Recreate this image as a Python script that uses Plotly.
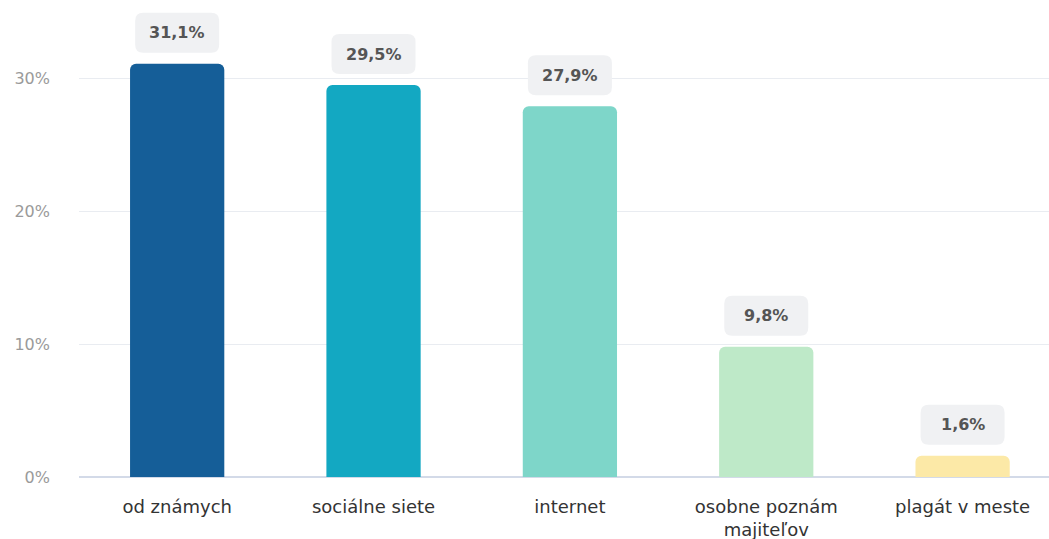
import plotly.graph_objects as go

categories = ["od známych", "sociálne siete", "internet", "osobne poznám<br>majiteľov", "plagát v meste"]
values = [31.1, 29.5, 27.9, 9.8, 1.6]
labels = ["31,1%", "29,5%", "27,9%", "9,8%", "1,6%"]
colors = ["#155E98", "#13A8C2", "#7ED6C9", "#BEE9C8", "#FCE9A7"]
tick_vals = [0, 10, 20, 30]
tick_text = ["0%", "10%", "20%", "30%"]

FONT = "DejaVu Sans"

fig = go.Figure()
fig.add_trace(go.Bar(
    x=list(range(len(categories))),
    y=values,
    marker=dict(color=colors, cornerradius=6, line=dict(width=0)),
    width=0.48,
    hoverinfo="skip",
))

box_w, box_h, gap, r = 84, 40, 11, 8
for i, (v, t) in enumerate(zip(values, labels)):
    x0, x1 = -box_w / 2, box_w / 2
    y0, y1 = gap, gap + box_h
    path = (f"M {x0+r},{y0} L {x1-r},{y0} Q {x1},{y0} {x1},{y0+r} "
            f"L {x1},{y1-r} Q {x1},{y1} {x1-r},{y1} L {x0+r},{y1} "
            f"Q {x0},{y1} {x0},{y1-r} L {x0},{y0+r} Q {x0},{y0} {x0+r},{y0} Z")
    fig.add_shape(type="path", xref="x", yref="y", xsizemode="pixel", ysizemode="pixel",
                  xanchor=i, yanchor=v, path=path, fillcolor="#F0F1F3",
                  line=dict(width=0), layer="above")
    fig.add_annotation(x=i, y=v, text=f"<b>{t}</b>", showarrow=False,
                       yshift=gap + box_h / 2, font=dict(family=FONT, size=16, color="#555555"))

fig.update_layout(
    width=1049, height=539,
    margin=dict(l=79, r=0, t=0, b=62),
    paper_bgcolor="white", plot_bgcolor="white",
    showlegend=False,
    font=dict(family=FONT),
    xaxis=dict(
        range=[-0.5, 4.44],
        tickmode="array", tickvals=list(range(len(categories))), ticktext=categories,
        tickfont=dict(family=FONT, size=18, color="#333333"),
        showgrid=False, zeroline=False, showline=False, ticks="",
        ticklabelstandoff=17, automargin=False,
    ),
    yaxis=dict(
        range=[0, 35.9],
        tickmode="array", tickvals=tick_vals, ticktext=tick_text,
        tickfont=dict(family=FONT, size=16, color="#9A9A9A"),
        showgrid=True, gridcolor="#E9ECF1", gridwidth=1,
        zeroline=True, zerolinecolor="#D3DAE8", zerolinewidth=2,
        showline=False, ticks="",
        ticklabelstandoff=28, automargin=False,
    ),
)

fig.write_html("out.html", config={"displayModeBar": False},
               post_script="document.body.style.margin='0';")
